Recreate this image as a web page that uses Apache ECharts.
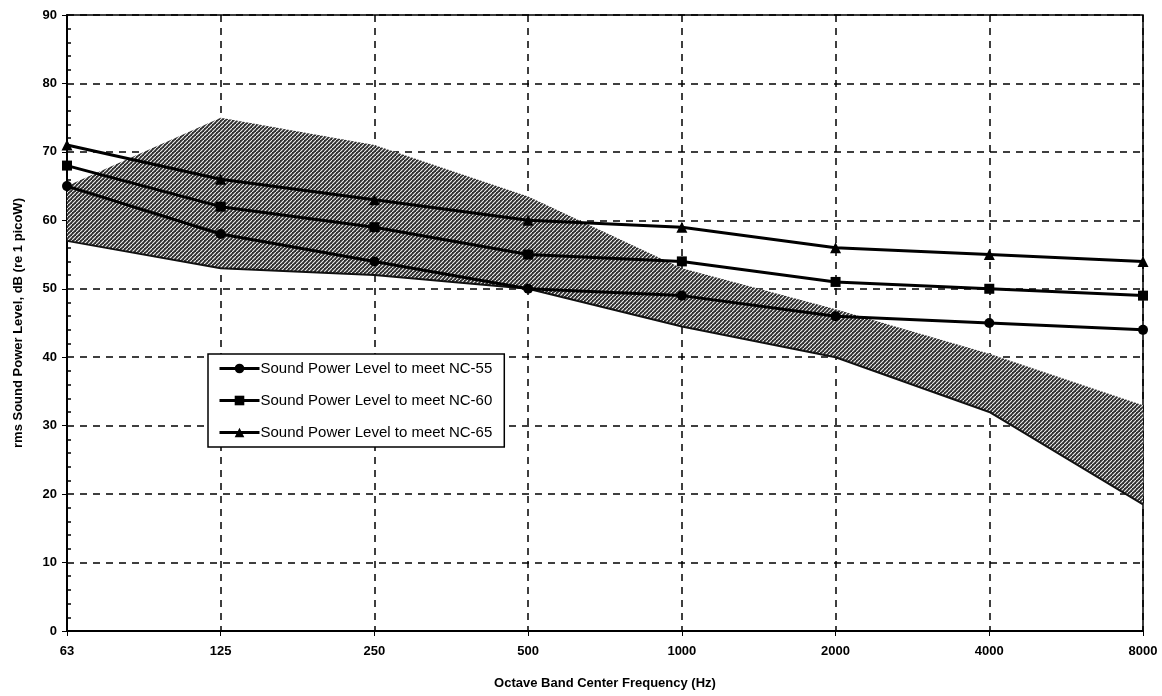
<!DOCTYPE html>
<html>
<head>
<meta charset="utf-8">
<script src="https://cdn.jsdelivr.net/npm/echarts@6/dist/echarts.min.js"></script>
<style>
    html, body { margin: 0; padding: 0; background: #fff; }
    #chart { width: 1162px; height: 696px; }
</style>
</head>
<body>
<div id="chart"></div>
<script>
// octave band centres
const frequencies = ['63', '125', '250', '500', '1000', '2000', '4000', '8000'];

// sound power level needed to meet each NC curve
const nc55 = [65, 58, 54, 50, 49, 46, 45, 44];
const nc60 = [68, 62, 59, 55, 54, 51, 50, 49];
const nc65 = [71, 66, 63, 60, 59, 56, 55, 54];

// hatched range band (upper / lower edge)
const bandUpper = [65, 75, 71, 63.5, 53, 47, 40.5, 33];
const bandLower = [57, 53, 52, 50, 44.5, 40, 32, 18.5];

const fontFamily = 'Arial, "Liberation Sans", sans-serif';

// hatch pattern for the band
function makeHatch() {
    const c = document.createElement('canvas');
    c.width = 4;
    c.height = 4;
    const ctx = c.getContext('2d');
    ctx.fillStyle = '#303030';
    ctx.fillRect(0, 0, 4, 4);
    ctx.strokeStyle = '#f0f0f0';
    ctx.lineWidth = 1.1;
    ctx.beginPath();
    ctx.moveTo(-1, 5);
    ctx.lineTo(5, -1);
    ctx.stroke();
    return c;
}

const chart = echarts.init(document.getElementById('chart'));

function ncSeries(name, data, symbol) {
    return {
        name: name,
        type: 'line',
        data: data,
        symbol: symbol,
        symbolSize: symbol === 'triangle' ? 11 : 10,
        lineStyle: { color: '#000', width: 3 },
        itemStyle: { color: '#000' },
        z: 5
    };
}

const option = {
    animation: false,
    grid: {
        left: 67, right: 19, top: 15, bottom: 65,
        show: true,
        borderColor: '#000',
        borderWidth: 1.5,
        backgroundColor: 'transparent'
    },
    legend: {
        orient: 'vertical',
        left: 208,
        top: 354,
        data: ['Sound Power Level to meet NC-55', 'Sound Power Level to meet NC-60', 'Sound Power Level to meet NC-65'],
        backgroundColor: '#fff',
        borderColor: '#000',
        borderWidth: 1.5,
        borderRadius: 0,
        padding: [7, 12, 7, 10],
        itemWidth: 40,
        itemHeight: 12,
        itemGap: 17,
        lineStyle: { width: 3 },
        textStyle: { fontFamily: fontFamily, fontSize: 15, color: '#000', padding: [0, 0, 0, -4] }
    },
    xAxis: {
        type: 'category',
        data: frequencies,
        boundaryGap: false,
        name: 'Octave Band Center Frequency (Hz)',
        nameLocation: 'middle',
        nameGap: 46,
        nameTextStyle: { fontFamily: fontFamily, fontWeight: 'bold', fontSize: 13, color: '#000' },
        axisLine: { lineStyle: { color: '#000', width: 2 } },
        axisTick: { show: true, length: 5, lineStyle: { color: '#000' } },
        axisLabel: { fontFamily: fontFamily, fontWeight: 'bold', fontSize: 13, color: '#000', margin: 14 },
        splitLine: { show: true, lineStyle: { color: '#000', type: [7, 6], width: 1.5 } }
    },
    yAxis: [
        {
            type: 'value',
            min: 0,
            max: 90,
            interval: 10,
            name: 'rms Sound Power Level, dB (re 1 picoW)',
            nameLocation: 'middle',
            nameGap: 42,
            nameTextStyle: { fontFamily: fontFamily, fontWeight: 'bold', fontSize: 13, color: '#000' },
            axisLine: { show: true, lineStyle: { color: '#000', width: 2 } },
            axisTick: { show: true, length: 5, lineStyle: { color: '#000' } },
            axisLabel: { fontFamily: fontFamily, fontWeight: 'bold', fontSize: 13, color: '#000', margin: 10 },
            splitLine: { show: true, lineStyle: { color: '#000', type: [7, 6], width: 1.5 } }
        },
        {
            // only for the inside minor ticks
            type: 'value',
            min: 0,
            max: 90,
            interval: 10,
            position: 'left',
            axisLine: { show: false },
            axisTick: { show: false, inside: true },
            minorTick: { show: true, splitNumber: 5, length: 4, lineStyle: { color: '#000', width: 1.5 } },
            axisLabel: { show: false },
            splitLine: { show: false }
        }
    ],
    series: [
        {
            name: 'band-base',
            type: 'line',
            stack: 'band',
            data: bandLower,
            symbol: 'none',
            lineStyle: { opacity: 0 },
            silent: true,
            z: 1
        },
        {
            name: 'band',
            type: 'line',
            stack: 'band',
            data: bandUpper.map((v, i) => v - bandLower[i]),
            symbol: 'none',
            lineStyle: { opacity: 0 },
            areaStyle: { color: { image: makeHatch(), repeat: 'repeat' }, opacity: 1 },
            silent: true,
            z: 1
        },
        {
            name: 'band-edge',
            type: 'line',
            data: bandLower,
            symbol: 'none',
            lineStyle: { color: '#111', width: 2 },
            silent: true,
            z: 2
        },
        ncSeries('Sound Power Level to meet NC-55', nc55, 'circle'),
        ncSeries('Sound Power Level to meet NC-60', nc60, 'rect'),
        ncSeries('Sound Power Level to meet NC-65', nc65, 'triangle')
    ]
};

chart.setOption(option);
</script>
</body>
</html>
